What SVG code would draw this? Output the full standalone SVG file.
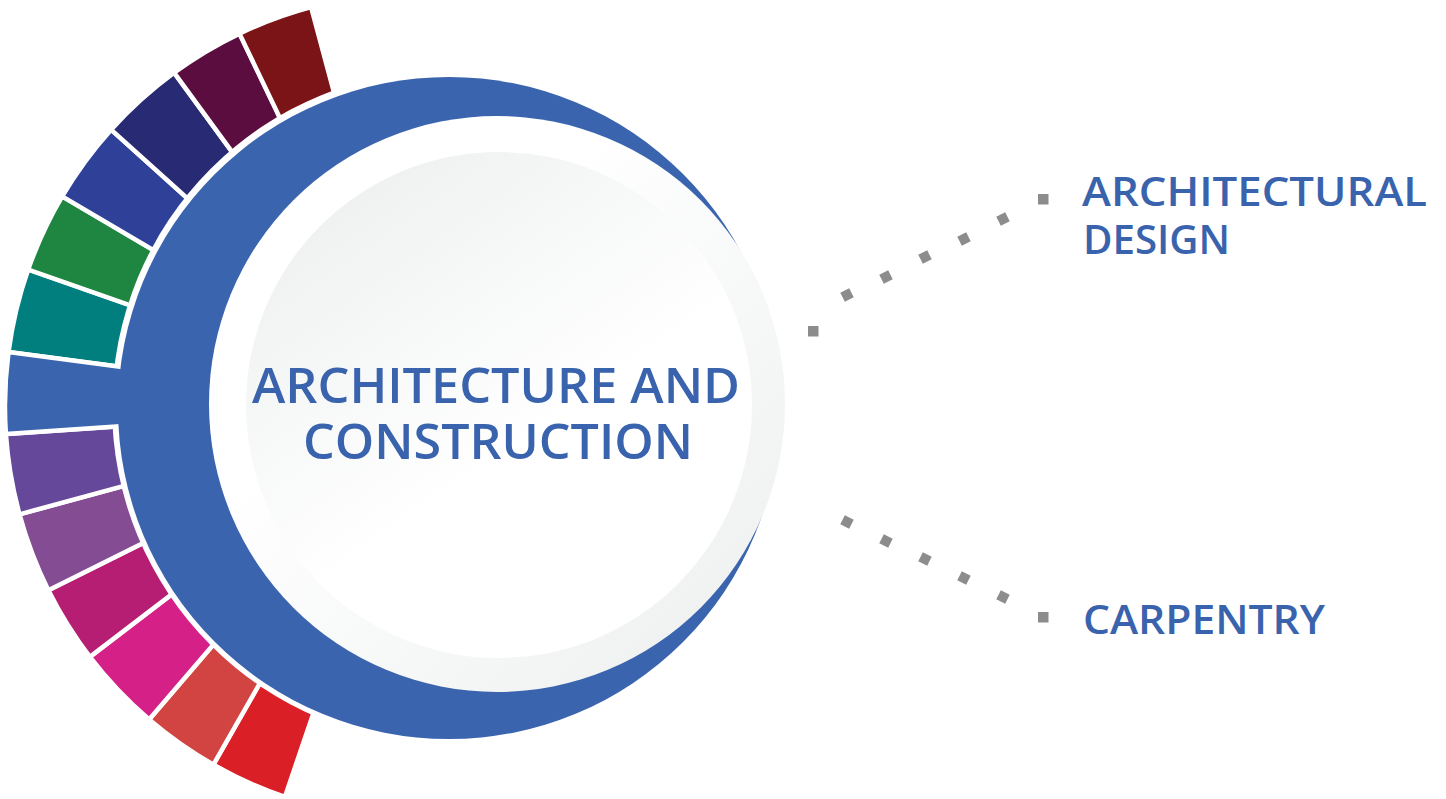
<svg xmlns="http://www.w3.org/2000/svg" width="1446" height="799" viewBox="0 0 1446 799">
  <defs>
    <style>
      .seg { stroke: #ffffff; stroke-width: 4.5; stroke-linejoin: miter; }
      .dot { fill: #8c8c8c; }
      .lbl { font-family: "Open Sans", "Liberation Sans", sans-serif; font-weight: 600; fill: #3a63ae; font-size: 40px; }
      .title { font-family: "Open Sans", "Liberation Sans", sans-serif; font-weight: 600; fill: #3a63ae; font-size: 48px; }
    </style>
    <linearGradient id="gOuter" x1="0" y1="0" x2="1" y2="1">
      <stop offset="0.35" stop-color="#ffffff"/>
      <stop offset="1" stop-color="#eceeee"/>
    </linearGradient>
    <linearGradient id="gInner" x1="0.1" y1="0" x2="0.8" y2="1">
      <stop offset="0" stop-color="#eceeee"/>
      <stop offset="0.6" stop-color="#ffffff"/>
    </linearGradient>
  </defs>

  <rect width="1446" height="799" fill="#ffffff"/>

  <g id="segments">
    <path class="seg" fill="#da1f26" d="M418 406 L284.9 796.9 A413 413 0 0 1 213.4 764.7 Z"/>
    <path class="seg" fill="#d24442" d="M418 406 L213.4 764.7 A413 413 0 0 1 149.1 719.5 Z"/>
    <path class="seg" fill="#d42087" d="M418 406 L149.1 719.5 A413 413 0 0 1 89.9 656.9 Z"/>
    <path class="seg" fill="#b51e72" d="M418 406 L89.9 656.9 A413 413 0 0 1 48.4 590.3 Z"/>
    <path class="seg" fill="#844d93" d="M418 406 L48.4 590.3 A413 413 0 0 1 19.5 514.3 Z"/>
    <path class="seg" fill="#66489a" d="M418 406 L19.5 514.3 A413 413 0 0 1 5.9 434.1 Z"/>
    <path class="seg" fill="#007f7e" d="M418 406 L8.5 352.1 A413 413 0 0 1 28.2 269.5 Z"/>
    <path class="seg" fill="#1e8641" d="M418 406 L28.2 269.5 A413 413 0 0 1 62.2 196.4 Z"/>
    <path class="seg" fill="#2f4099" d="M418 406 L62.2 196.4 A413 413 0 0 1 111.1 129.7 Z"/>
    <path class="seg" fill="#282a74" d="M418 406 L111.1 129.7 A413 413 0 0 1 174.1 72.7 Z"/>
    <path class="seg" fill="#5c0d40" d="M418 406 L174.1 72.7 A413 413 0 0 1 239.5 33.6 Z"/>
    <path class="seg" fill="#7b1416" d="M418 406 L239.5 33.6 A413 413 0 0 1 311.1 7.1 Z"/>
    <circle cx="449" cy="407" r="337" fill="#ffffff"/>
    <path class="seg" fill="#3b64af" d="M418 406 L5.9 434.1 A413 413 0 0 1 8.5 352.1 Z"/>
  </g>

  <g id="center-node">
    <circle cx="449" cy="408" r="331" fill="#3b64af"/>
    <circle cx="497" cy="404" r="288" fill="url(#gOuter)"/>
    <circle cx="499" cy="405" r="253" fill="url(#gInner)"/>
    <text class="title" x="496" y="403" text-anchor="middle" textLength="488" lengthAdjust="spacingAndGlyphs">ARCHITECTURE AND</text>
    <text class="title" x="498" y="459" text-anchor="middle" textLength="390" lengthAdjust="spacingAndGlyphs">CONSTRUCTION</text>
  </g>

  <g id="connectors">
    <rect class="dot" x="808" y="326" width="10.5" height="10.5"/>
    <rect class="dot" x="-5" y="-5" width="10" height="10" transform="translate(847 295) rotate(-27)"/>
    <rect class="dot" x="-5" y="-5" width="10" height="10" transform="translate(886 277) rotate(-27)"/>
    <rect class="dot" x="-5" y="-5" width="10" height="10" transform="translate(925 257) rotate(-27)"/>
    <rect class="dot" x="-5" y="-5" width="10" height="10" transform="translate(964 239) rotate(-27)"/>
    <rect class="dot" x="-5" y="-5" width="10" height="10" transform="translate(1003 219) rotate(-27)"/>
    <rect class="dot" x="1038" y="194" width="10.5" height="10.5"/>

    <rect class="dot" x="-5" y="-5" width="10" height="10" transform="translate(847 522) rotate(27)"/>
    <rect class="dot" x="-5" y="-5" width="10" height="10" transform="translate(886 541) rotate(27)"/>
    <rect class="dot" x="-5" y="-5" width="10" height="10" transform="translate(925 559) rotate(27)"/>
    <rect class="dot" x="-5" y="-5" width="10" height="10" transform="translate(964 578) rotate(27)"/>
    <rect class="dot" x="-5" y="-5" width="10" height="10" transform="translate(1003 597) rotate(27)"/>
    <rect class="dot" x="1038" y="612" width="10.5" height="10.5"/>
  </g>

  <g id="label-architectural-design">
    <text class="lbl" x="1082" y="206" textLength="345" lengthAdjust="spacingAndGlyphs">ARCHITECTURAL</text>
    <text class="lbl" x="1083" y="254" textLength="147" lengthAdjust="spacingAndGlyphs">DESIGN</text>
  </g>

  <g id="label-carpentry">
    <text class="lbl" x="1083" y="634" textLength="242" lengthAdjust="spacingAndGlyphs">CARPENTRY</text>
  </g>
</svg>
